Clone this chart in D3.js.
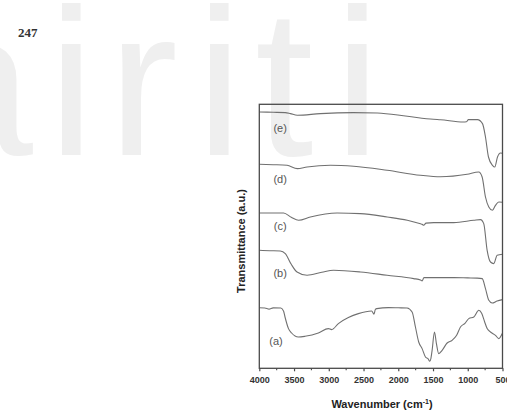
<!DOCTYPE html>
<html>
<head>
<meta charset="utf-8">
<script src="https://cdn.jsdelivr.net/npm/d3@7/dist/d3.min.js"></script>
<style>
  body { margin: 0; background: #fff; }
  svg { display: block; }
</style>
</head>
<body>
<svg id="chart" width="507" height="418"></svg>
<script>
// FTIR spectra, wavenumber (cm-1) vs transmittance (a.u., stacked)
const wnTicks = [4000, 3500, 3000, 2500, 2000, 1500, 1000, 500];
const wnMinor = [3750, 3250, 2750, 2250, 1750, 1250, 750];

const specA = [[4000, 60.5], [3920, 60.3], [3860, 59.2], [3800, 60.4], [3690, 60.3], [3650, 57], [3630, 51.3],
  [3580, 39.7], [3535, 35.3], [3438, 31.3], [3342, 32], [3150, 35.3], [3006, 39.7], [2959, 38.7], [2862, 44.7],
  [2718, 50.7], [2574, 54.7], [2383, 57.3], [2350, 54.2], [2330, 58.8], [2310, 59.7], [2142, 60.7], [1997, 60.5],
  [1873, 60.3], [1801, 56.3], [1753, 41.3], [1706, 26.3], [1657, 19.7], [1609, 11.3], [1570, 9.5], [1547, 7],
  [1530, 10], [1513, 18], [1479, 36.3], [1451, 24.7], [1418, 14.7], [1369, 18], [1297, 25.3], [1225, 28],
  [1160, 33], [1105, 41.3], [1040, 45], [985, 49.7], [913, 51.3], [841, 58], [800, 55], [760, 47], [721, 39.7],
  [673, 36.3], [601, 33], [553, 29.7], [504, 34.7]];

const specB = [[4000, 118], [3850, 117.6], [3698, 117.3], [3626, 114.7], [3540, 104], [3457, 96.3], [3313, 93],
  [3100, 96], [2930, 98], [2545, 96.3], [2160, 93], [1778, 89.7], [1680, 88.4], [1657, 87.3], [1630, 90.7],
  [1609, 90.7], [1200, 90.7], [1000, 90.4], [864, 90.2], [792, 89.7], [745, 79.7], [697, 68], [649, 65.3],
  [577, 67.3], [500, 68.7]];

const specC = [[4000, 155.3], [3800, 155.3], [3650, 155.3], [3540, 151], [3434, 148], [3265, 151.3],
  [2881, 155.3], [2545, 154.7], [2160, 151.3], [1870, 148], [1680, 144.5], [1657, 144], [1634, 143],
  [1600, 145.2], [1490, 145.7], [1202, 145.7], [913, 148], [817, 148.7], [770, 144.7], [721, 118],
  [673, 106.3], [626, 104.7], [577, 113], [500, 114]];

const specD = [[4000, 204], [3800, 203.6], [3601, 203], [3453, 199.7], [3313, 201.3], [2977, 203],
  [2642, 202], [2161, 198], [1681, 193], [1393, 191.5], [1009, 194], [842, 196.3], [793, 191.3],
  [745, 171.3], [697, 161.3], [645, 158], [601, 163], [553, 166.3], [500, 166]];

const specE = [[4000, 256.3], [3800, 256], [3626, 255.7], [3553, 254.7], [3453, 253], [3121, 254.7],
  [2646, 255.7], [2300, 255.3], [1868, 252], [1494, 249], [1393, 248.5], [1062, 246.3], [1020, 246.5],
  [990, 248.7], [860, 248.7], [788, 244.7], [745, 231.3], [702, 211.3], [644, 203], [611, 201.3],
  [572, 211.3], [529, 215.3], [500, 215]];

const seriesNames = ['(a)', '(b)', '(c)', '(d)', '(e)'];
const seriesData = [specA, specB, specC, specD, specE];
// where each sample label sits, in data units [wavenumber, a.u.]
const labelAt = [[3760, 27], [3700, 95], [3700, 142], [3700, 189], [3700, 240]];

const svg = d3.select('#chart');
const W = 507, H = 418;
const margin = { top: 104.3, right: 4.5, bottom: 49.7, left: 259.3 };
const innerW = W - margin.left - margin.right;
const innerH = H - margin.top - margin.bottom;

// background watermark
const wm = svg.append('g')
  .attr('fill', '#efefef')
  .style('font-family', '"Liberation Sans", Arial, sans-serif')
  .style('font-size', '210px');
[['a', -84], ['i', 48], ['r', 108], ['i', 196], ['t', 255], ['i', 334]].forEach(([ch, x]) => {
  wm.append('text').attr('x', x).attr('y', 155).text(ch);
});

// page number
svg.append('text')
  .attr('x', 18)
  .attr('y', 37)
  .style('font-family', '"Liberation Serif", "Times New Roman", serif')
  .style('font-weight', 'bold')
  .style('font-size', '13px')
  .attr('fill', '#333')
  .text('247');

const g = svg.append('g')
  .attr('transform', 'translate(' + margin.left + ',' + margin.top + ')');

const xScale = d3.scaleLinear().domain([4000, 500]).range([0, innerW]);
const yScale = d3.scaleLinear().domain([0, 264]).range([innerH, 0]);

const line = d3.line()
  .x(d => xScale(d[0]))
  .y(d => yScale(d[1]))
  .curve(d3.curveMonotoneX);

g.selectAll('path.spec')
  .data(seriesData)
  .enter()
  .append('path')
  .attr('class', 'spec')
  .attr('fill', 'none')
  .attr('stroke', '#707070')
  .attr('stroke-width', 1.1)
  .attr('d', d => line(d));

g.selectAll('text.lbl')
  .data(seriesNames)
  .enter()
  .append('text')
  .attr('class', 'lbl')
  .attr('x', (d, i) => xScale(labelAt[i][0]))
  .attr('y', (d, i) => yScale(labelAt[i][1]))
  .attr('dy', '0.35em')
  .attr('text-anchor', 'middle')
  .style('font-family', '"Liberation Sans", Arial, sans-serif')
  .style('font-size', '11px')
  .attr('fill', '#555')
  .text(d => d);

// frame
g.append('rect')
  .attr('width', innerW)
  .attr('height', innerH)
  .attr('fill', 'none')
  .attr('stroke', '#4a4a4a')
  .attr('stroke-width', 1.3);

// x axis
const xAxis = d3.axisBottom(xScale)
  .tickValues(wnTicks)
  .tickFormat(d3.format('d'))
  .tickSize(3)
  .tickPadding(5)
  .tickSizeOuter(0);
const xg = g.append('g')
  .attr('transform', 'translate(0,' + innerH + ')')
  .call(xAxis);
xg.select('.domain').remove();
xg.selectAll('line').attr('stroke', '#4a4a4a').attr('stroke-width', 1.2);
xg.selectAll('text')
  .style('font-family', '"Liberation Sans", Arial, sans-serif')
  .style('font-weight', 'bold')
  .style('font-size', '9px')
  .attr('fill', '#333');

g.append('g')
  .attr('transform', 'translate(0,' + innerH + ')')
  .selectAll('line')
  .data(wnMinor)
  .enter()
  .append('line')
  .attr('x1', d => xScale(d))
  .attr('x2', d => xScale(d))
  .attr('y1', 0)
  .attr('y2', 2)
  .attr('stroke', '#4a4a4a')
  .attr('stroke-width', 1.1);

// axis titles
const xt = svg.append('text')
  .attr('x', 382)
  .attr('y', 408)
  .attr('text-anchor', 'middle')
  .style('font-family', '"Liberation Sans", Arial, sans-serif')
  .style('font-weight', 'bold')
  .style('font-size', '11px')
  .attr('fill', '#222');
xt.append('tspan').text('Wavenumber (cm');
xt.append('tspan').attr('dy', -4).style('font-size', '7px').text('-1');
xt.append('tspan').attr('dy', 4).text(')');

svg.append('text')
  .attr('transform', 'translate(245,241) rotate(-90)')
  .attr('text-anchor', 'middle')
  .style('font-family', '"Liberation Sans", Arial, sans-serif')
  .style('font-weight', 'bold')
  .style('font-size', '11px')
  .attr('fill', '#222')
  .text('Transmittance (a.u.)');
</script>
</body>
</html>
